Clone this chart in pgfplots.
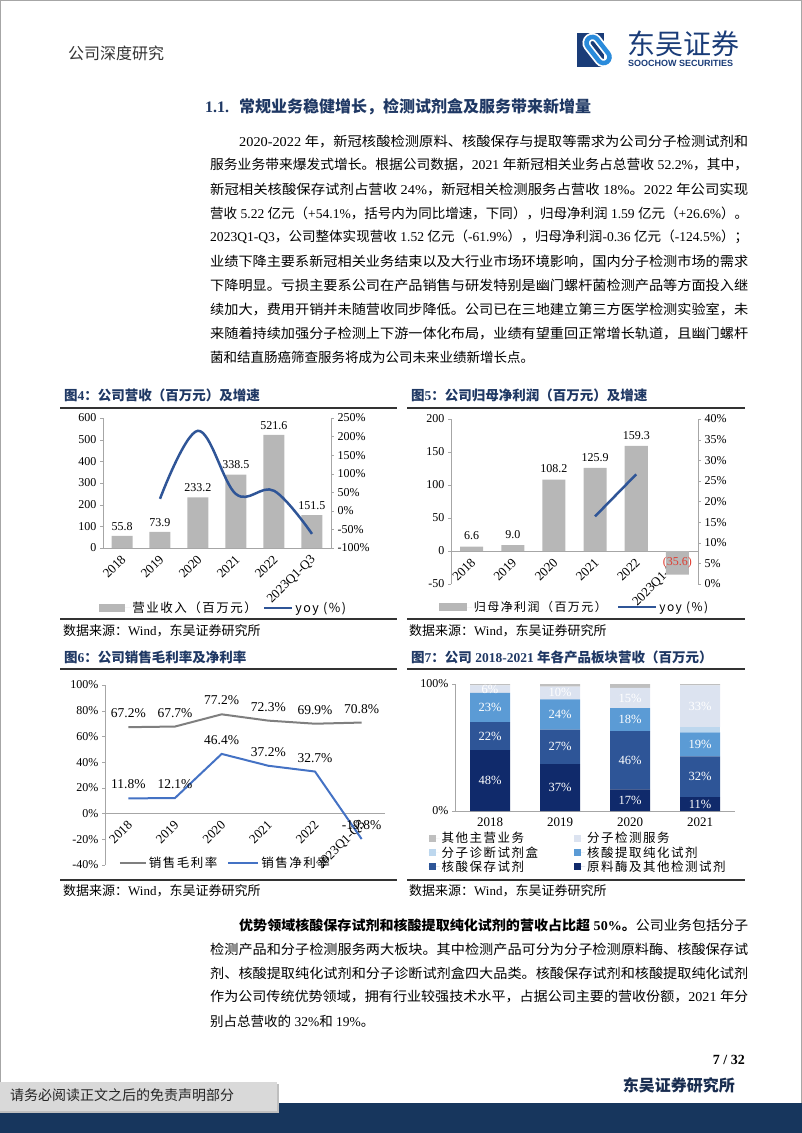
\documentclass[border=0pt]{standalone}
\usepackage{fontspec}
\usepackage{graphicx}
\usepackage{pgfplots}
\pgfplotsset{compat=1.18}
\setmainfont{Liberation Serif}
\newfontfamily\cjk{Noto Sans CJK SC}
\newfontfamily\cjkw{Noto Sans CJK SC}[LetterSpace=12]
\newfontfamily\sansf{Liberation Sans}
\definecolor{navy}{HTML}{1F3864}
\definecolor{bargray}{HTML}{B7B7B7}
\definecolor{yoyblue}{HTML}{2F5597}
\definecolor{grossgray}{HTML}{7F7F7F}
\definecolor{netblue}{HTML}{4472C4}
\definecolor{cA}{HTML}{102A6B}
\definecolor{cB}{HTML}{2E5597}
\definecolor{cC}{HTML}{5B9BD5}
\definecolor{cD}{HTML}{BDD7EE}
\definecolor{cE}{HTML}{DCE3F0}
\definecolor{cF}{HTML}{BFBFBF}
\definecolor{footnavy}{HTML}{17365D}
\definecolor{footgray}{HTML}{D9D9D9}
\definecolor{logoblue}{HTML}{2A8BDB}
\definecolor{logonavy}{HTML}{1A3C78}
\definecolor{axgray}{HTML}{A6A6A6}
\definecolor{labred}{HTML}{E03C31}
\newcommand\fs[1]{\fontsize{#1}{#1}\selectfont}
\newcommand\en[1]{{\rmfamily #1}}
\newcommand\bl[4]{\node[anchor=west, inner sep=0pt] at (#1,#2) {\resizebox{#3pt}{\height}{\cjk\fs{13.5}#4}};}
\newcommand\nl[3]{\node[anchor=west, inner sep=0pt] at (#1,#2) {\cjk\fs{13.5}#3};}
\pgfplotsset{
  base/.style={scale only axis, anchor=south west,
    axis line style={draw=axgray, line width=0.8pt}, tick style={draw=axgray},
    tick label style={font=\fs{12}},
    /pgf/number format/assume math mode=true,
    major tick length=3pt, tick align=outside, clip=false},
}
\begin{document}
\begin{tikzpicture}
\path[use as bounding box] (0,0) rectangle (802pt,-1133pt);
\begin{scope}[x=1pt,y=-1pt]
% page border
\draw[gray!70, line width=1pt] (0.5,0.5) rectangle (801.5,1132.5);
% header
\node[anchor=west, inner sep=0pt, text=black!80] at (68,53) {\cjk\fs{16}公司深度研究};
\fill[logonavy] (577,33) rectangle (604,67);
\begin{scope}[shift={(598,50)}, rotate=-52]
\draw[white, line width=8pt, rounded corners=6pt] (-15,-6) rectangle (15,6);
\draw[logoblue, line width=4.5pt, rounded corners=6pt] (-15,-6) rectangle (15,6);
\end{scope}
\node[anchor=west, inner sep=0pt, text=logonavy] at (627,44) {\cjk\fs{28}东吴证券};
\node[anchor=west, inner sep=0pt, text=logonavy] at (628,63.5) {\sansf\bfseries\fs{9}SOOCHOW SECURITIES};
% heading
\node[anchor=west, inner sep=0pt, text=navy] at (205,107) {\bfseries\fs{16}1.1.\hspace{10pt}\cjk 常规业务稳健增长，检测试剂盒及服务带来新增量};
% paragraph 1
\bl{239}{141}{509}{\en{2020-2022 }年，新冠核酸检测原料、核酸保存与提取等需求为公司分子检测试剂和}
\bl{210}{165}{538}{服务业务带来爆发式增长。根据公司数据，\en{2021 }年新冠相关业务占总营收\en{ 52.2\%}，其中，}
\bl{210}{189}{538}{新冠相关核酸保存试剂占营收\en{ 24\%}，新冠相关检测服务占营收\en{ 18\%}。\en{2022 }年公司实现}
\bl{210}{213}{538}{营收\en{ 5.22 }亿元（\en{+54.1\%}，括号内为同比增速，下同），归母净利润\en{ 1.59 }亿元（\en{+26.6\%}）。}
\bl{210}{237}{538}{\en{2023Q1-Q3}，公司整体实现营收\en{ 1.52 }亿元（\en{-61.9\%}），归母净利润\en{-0.36 }亿元（\en{-124.5\%}）；}
\bl{210}{261}{538}{业绩下降主要系新冠相关业务结束以及大行业市场环境影响，国内分子检测市场的需求}
\bl{210}{285}{538}{下降明显。亏损主要系公司在产品销售与研发特别是幽门螺杆菌检测产品等方面投入继}
\bl{210}{309}{538}{续加大，费用开销并未随营收同步降低。公司已在三地建立第三方医学检测实验室，未}
\bl{210}{333}{538}{来随着持续加强分子检测上下游一体化布局，业绩有望重回正常增长轨道，且幽门螺杆}
\nl{210}{357}{菌和结直肠癌筛查服务将成为公司未来业绩新增长点。}
% figure titles and rules
\node[anchor=west, inner sep=0pt, text=navy] at (64,395) {\cjk\bfseries\fs{13.5}图\en{4}：公司营收（百万元）及增速};
\node[anchor=west, inner sep=0pt, text=navy] at (411,395) {\cjk\bfseries\fs{13.5}图\en{5}：公司归母净利润（百万元）及增速};
\node[anchor=west, inner sep=0pt, text=navy] at (64,657) {\cjk\bfseries\fs{13.5}图\en{6}：公司销售毛利率及净利率};
\node[anchor=west, inner sep=0pt, text=navy] at (411,657) {\cjk\bfseries\fs{13.5}图\en{7}：公司\en{ 2018-2021 }年各产品板块营收（百万元）};
\draw[black!80, line width=1.6pt] (60,408) -- (397,408);
\draw[black!80, line width=1.6pt] (407,408) -- (745,408);
\draw[black!80, line width=1.6pt] (60,619) -- (397,619);
\draw[black!80, line width=1.6pt] (407,619) -- (745,619);
\draw[black!80, line width=1.6pt] (60,669) -- (397,669);
\draw[black!80, line width=1.6pt] (407,669) -- (745,669);
\draw[black!80, line width=1.6pt] (60,880) -- (397,880);
\draw[black!80, line width=1.6pt] (407,880) -- (745,880);
\node[anchor=west, inner sep=0pt] at (63,631) {\cjk\fs{13}数据来源：\en{Wind}，东吴证券研究所};
\node[anchor=west, inner sep=0pt] at (409,631) {\cjk\fs{13}数据来源：\en{Wind}，东吴证券研究所};
\node[anchor=west, inner sep=0pt] at (63,891) {\cjk\fs{13}数据来源：\en{Wind}，东吴证券研究所};
\node[anchor=west, inner sep=0pt] at (409,891) {\cjk\fs{13}数据来源：\en{Wind}，东吴证券研究所};
% paragraph 2
\bl{239}{925}{509}{{\bfseries 优势领域核酸保存试剂和核酸提取纯化试剂的营收占比超\en{ 50\%}。}公司业务包括分子}
\bl{210}{949}{538}{检测产品和分子检测服务两大板块。其中检测产品可分为分子检测原料酶、核酸保存试}
\bl{210}{973}{538}{剂、核酸提取纯化试剂和分子诊断试剂盒四大品类。核酸保存试剂和核酸提取纯化试剂}
\bl{210}{997}{538}{作为公司传统优势领域，拥有行业较强技术水平，占据公司主要的营收份额，\en{2021 }年分}
\nl{210}{1021}{别占总营收的\en{ 32\%}和\en{ 19\%}。}
% footer
\node[anchor=east, inner sep=0pt] at (745,1060) {\bfseries\fs{14}7 / 32};
\node[anchor=east, inner sep=0pt, text=navy!80!black] at (735,1085) {\cjk\bfseries\fs{16}东吴证券研究所};
\fill[footnavy] (0,1103) rectangle (802,1133);
\fill[black!25] (0,1084) rectangle (279,1113);
\fill[footgray] (0,1082) rectangle (277,1111);
\node[anchor=west, inner sep=0pt, text=black!85] at (10,1095) {\cjk\fs{14}请务必阅读正文之后的免责声明部分};
\end{scope}

% ================= Fig 4 =================
\begin{axis}[base, at={(103pt,-548pt)}, width=228pt, height=130pt,
  xmin=-0.5, xmax=5.5, ymin=0, ymax=600, ytick={0,100,...,600},
  axis x line*=bottom, axis y line*=left,
  xtick={0,...,5}, xticklabels={2018,2019,2020,2021,2022,2023Q1-Q3},
  x tick style={draw=none},
  xticklabel style={font=\fs{13}, xshift=4pt, yshift=-4pt, rotate=45, anchor=east},
  ybar, bar width=21pt,
  nodes near coords={\pgfmathprintnumber[fixed,fixed zerofill,precision=1]{\pgfplotspointmeta}},
  nodes near coords style={font=\fs{12}, yshift=2pt},
  legend cell align=left,
  legend style={draw=none, fill=none, at={(0.53,-0.46)}, anchor=center, legend columns=2,
    font=\cjkw\fs{12.5}, /tikz/every even column/.append style={column sep=4pt}},
]
\addplot[fill=bargray, draw=none, legend image code/.code={\fill[bargray] (0pt,-4pt) rectangle (26pt,4pt); \path (0pt,0pt) -- (31pt,0pt);}]
  coordinates {(0,55.8) (1,73.9) (2,233.2) (3,338.5) (4,521.6) (5,151.5)};
\addlegendentry{营业收入（百万元）}
\addlegendimage{legend image code/.code={\draw[yoyblue, line width=2.5pt] (0pt,0pt) -- (28pt,0pt);}}
\addlegendentry{yoy (\%)}
\end{axis}
\begin{axis}[base, at={(103pt,-548pt)}, width=228pt, height=130pt,
  xmin=-0.5, xmax=5.5, ymin=-100, ymax=250, ytick={-100,-50,...,250},
  axis x line=none, axis y line*=right,
  yticklabel={\pgfmathprintnumber{\tick}\%},
]
\addplot[yoyblue, line width=2.5pt, smooth, tension=0.6] coordinates {(1,32.4) (2,215.6) (3,45.2) (4,54.1) (5,-61.9)};
\end{axis}

% ================= Fig 5 =================
\begin{axis}[base, at={(451pt,-584pt)}, width=247pt, height=165pt,
  xmin=-0.5, xmax=5.5, ymin=-50, ymax=200, ytick={-50,0,...,200},
  axis x line*=middle, axis y line*=left, x axis line style={-},
  xtick={0,...,5}, xticklabels={2018,2019,2020,2021,2022,2023Q1-Q3},
  x tick style={draw=none},
  xticklabel style={font=\fs{13}, xshift=4pt, yshift=-4pt, rotate=45, anchor=east},
  ybar, bar width=23pt,
  point meta=explicit symbolic, nodes near coords,
  nodes near coords style={font=\fs{12}, yshift=3pt},
  legend cell align=left,
  legend style={draw=none, fill=none, at={(0.50,-0.14)}, anchor=center, legend columns=2,
    font=\cjkw\fs{12}, /tikz/every even column/.append style={column sep=8pt}},
]
\addplot[fill=bargray, draw=none, legend image code/.code={\fill[bargray] (0pt,-4pt) rectangle (28pt,4pt); \path (0pt,0pt) -- (33pt,0pt);}]
  coordinates {(0,6.6) [6.6] (1,9.0) [9.0] (2,108.2) [108.2] (3,125.9) [125.9] (4,159.3) [159.3] (5,-35.6) [\textcolor{labred}{(35.6)}]};
\addlegendentry{归母净利润（百万元）}
\addlegendimage{legend image code/.code={\draw[yoyblue, line width=2.5pt] (0pt,0pt) -- (38pt,0pt);}}
\addlegendentry{yoy (\%)}
\end{axis}
\begin{axis}[base, at={(451pt,-584pt)}, width=247pt, height=165pt,
  xmin=-0.5, xmax=5.5, ymin=0, ymax=40, ytick={0,5,...,40},
  axis x line=none, axis y line*=right,
  yticklabel={\pgfmathprintnumber{\tick}\%},
]
\addplot[yoyblue, line width=2.5pt] coordinates {(3,16.4) (4,26.6)};
\end{axis}

% ================= Fig 6 =================
\begin{axis}[base, at={(105pt,-865pt)}, width=280pt, height=180pt,
  xmin=-0.5, xmax=5.5, ymin=-40, ymax=100, ytick={-40,-20,...,100},
  yticklabel={\pgfmathprintnumber{\tick}\%},
  axis x line*=middle, axis y line*=left, x axis line style={-},
  xtick={0,...,5}, xticklabels={2018,2019,2020,2021,2022,2023Q1-Q3},
  x tick style={draw=none},
  xticklabel style={font=\fs{13}, xshift=4pt, yshift=-4pt, rotate=45, anchor=east},
  nodes near coords={\pgfmathprintnumber[fixed,fixed zerofill,precision=1]{\pgfplotspointmeta}\%},
  nodes near coords style={font=\fs{13.5}, anchor=south, yshift=5pt, text=black},
  legend cell align=left,
  legend style={draw=none, fill=none, at={(0.43,0.01)}, anchor=center, legend columns=2,
    font=\cjkw\fs{12.5}, /tikz/every even column/.append style={column sep=8pt}},
]
\addplot[grossgray, line width=2pt, mark=none, legend image code/.code={\draw[grossgray, line width=2pt] (0pt,0pt) -- (26pt,0pt);}]
  coordinates {(0,67.2) (1,67.7) (2,77.2) (3,72.3) (4,69.9) (5,70.8)};
\addlegendentry{销售毛利率}
\addplot[netblue, line width=2pt, mark=none, legend image code/.code={\draw[netblue, line width=2pt] (0pt,0pt) -- (30pt,0pt);}]
  coordinates {(0,11.8) (1,12.1) (2,46.4) (3,37.2) (4,32.7) (5,-19.8)};
\addlegendentry{销售净利率}
\end{axis}

% ================= Fig 7 =================
\begin{axis}[base, at={(455pt,-811pt)}, width=280pt, height=127pt,
  xmin=-0.5, xmax=3.5, ymin=0, ymax=100, ytick={0,100},
  yticklabel={\pgfmathprintnumber{\tick}\%},
  axis x line*=bottom, axis y line*=left,
  xtick={0,...,3}, xticklabels={2018,2019,2020,2021}, x tick style={draw=none},
  xticklabel style={font=\fs{13}},
  ybar stacked, bar width=40pt,
  reverse legend, legend cell align=left,
  legend style={draw=none, fill=none, at={(0.44,-0.135)}, anchor=north, legend columns=2,
    font=\cjkw\fs{12.5}, row sep=-2pt,
    /tikz/every even column/.append style={column sep=34pt}},
]
\addplot[fill=cA, draw=none, legend image code/.code={\fill[cA] (0pt,-3.5pt) rectangle (7pt,3.5pt); \path (0pt,0pt) -- (11pt,0pt);}] coordinates {(0,48) (1,37) (2,17) (3,11)};
\addlegendentry{原料酶及其他检测试剂}
\addplot[fill=cB, draw=none, legend image code/.code={\fill[cB] (0pt,-3.5pt) rectangle (7pt,3.5pt); \path (0pt,0pt) -- (11pt,0pt);}] coordinates {(0,22) (1,27) (2,46) (3,32)};
\addlegendentry{核酸保存试剂}
\addplot[fill=cC, draw=none, legend image code/.code={\fill[cC] (0pt,-3.5pt) rectangle (7pt,3.5pt); \path (0pt,0pt) -- (11pt,0pt);}] coordinates {(0,23) (1,24) (2,18) (3,19)};
\addlegendentry{核酸提取纯化试剂}
\addplot[fill=cD, draw=none, legend image code/.code={\fill[cD] (0pt,-3.5pt) rectangle (7pt,3.5pt); \path (0pt,0pt) -- (11pt,0pt);}] coordinates {(0,0) (1,0) (2,0) (3,4)};
\addlegendentry{分子诊断试剂盒}
\addplot[fill=cE, draw=none, legend image code/.code={\fill[cE] (0pt,-3.5pt) rectangle (7pt,3.5pt); \path (0pt,0pt) -- (11pt,0pt);}] coordinates {(0,6) (1,10) (2,16) (3,33)};
\addlegendentry{分子检测服务}
\addplot[fill=cF, draw=none, legend image code/.code={\fill[cF] (0pt,-3.5pt) rectangle (7pt,3.5pt); \path (0pt,0pt) -- (11pt,0pt);}] coordinates {(0,1) (1,2) (2,3) (3,1)};
\addlegendentry{其他主营业务}
\end{axis}
\begin{axis}[base, at={(455pt,-811pt)}, width=280pt, height=127pt,
  xmin=-0.5, xmax=3.5, ymin=0, ymax=100, hide axis,
  point meta=explicit symbolic, nodes near coords,
  nodes near coords style={anchor=center, text=white, font=\fs{12.5}},
]
\addplot[draw=none, mark=none] coordinates {
  (0,24) [48\%] (0,59) [22\%] (0,81.5) [23\%] (0,96) [6\%]
  (1,18.5) [37\%] (1,50.5) [27\%] (1,76) [24\%] (1,93) [10\%]
  (2,8.5) [17\%] (2,40) [46\%] (2,72) [18\%] (2,89) [15\%]
  (3,5.5) [11\%] (3,27) [32\%] (3,52.5) [19\%] (3,82.5) [33\%]};
\end{axis}
\end{tikzpicture}
\end{document}
